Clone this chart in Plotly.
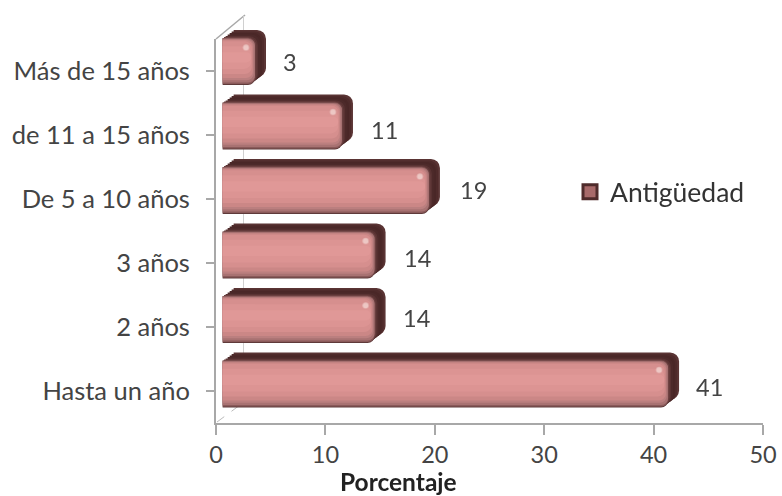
import plotly.graph_objects as go

CATEGORIES = ["Hasta un año", "2 años", "3 años", "De 5 a 10 años", "de 11 a 15 años", "Más de 15 años"]
VALUES = [41, 14, 14, 19, 11, 3]
SERIES_NAME = "Antigüedad"
X_TITLE = "Porcentaje"
X_TICKS = [0, 10, 20, 30, 40, 50]
LABEL_NUDGE_X = [30, 31, 32, 34, 32, 24]
LABEL_NUDGE_Y = [-3, 2, -3, 1, -4, -1]

W, H = 782, 496
FONT = "Lato"
AXIS = "#a8a8a8"


def fx(px):
    return px / W


def fy(px):
    return 1 - px / H


fig = go.Figure()
layout = dict(
    width=W, height=H, margin=dict(l=0, r=0, t=0, b=0, autoexpand=False), autosize=False,
    paper_bgcolor="white", plot_bgcolor="rgba(0,0,0,0)",
    barmode="overlay", font=dict(family=FONT, size=23, color="#333333"),
    showlegend=True,
    legend=dict(x=fx(570), y=fy(192), xanchor="left", yanchor="middle",
                bgcolor="rgba(0,0,0,0)", font=dict(size=26.5, color="#333333"),
                itemsizing="trace", itemwidth=30),
)

# main visible axes
layout["xaxis"] = dict(domain=[fx(216), fx(763)], range=[0, 50], tickvals=X_TICKS, ticks="outside",
                       ticklen=10, tickwidth=1.5, tickcolor=AXIS, showline=True, linecolor=AXIS, linewidth=2,
                       showgrid=False, zeroline=False, anchor="y",
                       tickfont=dict(size=23.5, color="#444444"))
layout["yaxis"] = dict(domain=[fy(423), fy(39)], range=[-0.5, 5.5], type="category",
                       categoryorder="array", categoryarray=CATEGORIES, ticks="outside", ticklen=8,
                       tickwidth=1.5, tickcolor=AXIS, showline=True, linecolor=AXIS, linewidth=2,
                       showgrid=False, zeroline=False, anchor="x", ticklabelstandoff=11,
                       tickfont=dict(size=25.5, color="#444444"))
fig.add_trace(go.Bar(x=VALUES, y=CATEGORIES, orientation="h", xaxis="x", yaxis="y", opacity=0,
                     showlegend=False, hoverinfo="skip"))

X0 = 222.4
X1 = X0 + 50 * 10.87
Y_BOTTOM = 416.25
Y_TOP = 29.25
THICK = 0.73
n = 2


def add_axes(dx, dy):
    global n
    layout[f"xaxis{n}"] = dict(domain=[fx(X0 + dx), fx(X1 + dx)], range=[0, 50], visible=False,
                               anchor=f"y{n}", fixedrange=True)
    layout[f"yaxis{n}"] = dict(domain=[fy(Y_BOTTOM - dy), fy(Y_TOP - dy)], range=[-0.5, 5.5], visible=False,
                               type="category", categoryorder="array", categoryarray=CATEGORIES,
                               anchor=f"x{n}", fixedrange=True)
    refs = (f"x{n}", f"y{n}")
    n += 1
    return refs


# extruded depth, back to front
for dx, dy, col in [(11, 8, "#5a3434"), (9, 6.5, "#4f2b2b"), (7, 5, "#4a2727"), (5, 3.5, "#4d2a2a"),
                    (3, 2, "#5a3333"), (1.5, 1, "#6b4040")]:
    xr, yr = add_axes(dx, dy)
    fig.add_trace(go.Bar(x=VALUES, y=CATEGORIES, orientation="h", xaxis=xr, yaxis=yr, width=THICK,
                         marker=dict(color=col, line=dict(width=0), cornerradius=9),
                         showlegend=False, hoverinfo="skip"))

# front face: layered bands from the full face inward
xr, yr = add_axes(0, 0)
front_x, front_y = xr, yr
BANDS = [(0.0, 0.0, "#5f3a3a", 0.0), (0.016, 0.0, "#8a5a5a", 0.0), (0.04, 0.012, "#a87272", 0.0),
         (0.075, 0.02, "#bb7f7f", 0.12), (0.11, 0.03, "#cb8786", 0.2), (0.17, 0.05, "#d68f8e", 0.3),
         (0.25, 0.13, "#dc9493", 0.35), (0.35, 0.22, "#e09897", 0.35)]
for lo, hi, col, trim in BANDS:
    fig.add_trace(go.Bar(x=[v - trim for v in VALUES], y=CATEGORIES, orientation="h", xaxis=xr, yaxis=yr,
                         offset=-THICK / 2 + lo, width=THICK - lo - hi,
                         marker=dict(color=col, line=dict(width=0), cornerradius=7),
                         showlegend=False, hoverinfo="skip"))

# glossy spot near the end of each bar
xr, yr = add_axes(-9, 14)
fig.add_trace(go.Scatter(x=VALUES, y=CATEGORIES, mode="markers", xaxis=xr, yaxis=yr,
                         marker=dict(size=6, color="#f3d8d4", line=dict(width=0)),
                         opacity=0.75, showlegend=False, hoverinfo="skip"))

# value labels, relative to the bar end on the front axes
annots = []
for c, v, nx, ny in zip(CATEGORIES, VALUES, LABEL_NUDGE_X, LABEL_NUDGE_Y):
    annots.append(dict(x=v, y=c, xref=front_x, yref=front_y, text=str(v), showarrow=False,
                       xshift=nx + 11, yshift=ny, font=dict(size=23.5, color="#444444")))
annots.append(dict(x=fx(399), y=fy(481), xref="paper", yref="paper", text=f"<b>{X_TITLE}</b>",
                   xanchor="center", yanchor="middle",
                   showarrow=False, font=dict(size=24.5, family=FONT, color="#222222")))
layout["annotations"] = annots

# legend entry
fig.add_trace(go.Scatter(x=[None], y=[None], mode="markers", name=SERIES_NAME, xaxis="x", yaxis="y",
                         marker=dict(symbol="square", size=14, color="#a86a6a",
                                     line=dict(color="#4f2b2b", width=3)), showlegend=True))

# 3D wall edges
layout["shapes"] = [
    dict(type="line", xref="paper", yref="paper", x0=fx(216), y0=fy(39), x1=fx(245), y1=fy(15),
         line=dict(color=AXIS, width=1.5), layer="below"),
    dict(type="line", xref="paper", yref="paper", x0=fx(243.5), y0=fy(16), x1=fx(243.5), y1=fy(406),
         line=dict(color="#d0d0d0", width=1), layer="below"),
    dict(type="line", xref="paper", yref="paper", x0=fx(217), y0=fy(422), x1=fx(240), y1=fy(405),
         line=dict(color="#bbbbbb", width=1, dash="dash"), layer="below"),
]

fig.update_layout(**layout)
fig.write_html("out.html", config=dict(displayModeBar=False),
               post_script="document.body.style.margin='0';document.documentElement.style.overflow='hidden';")
